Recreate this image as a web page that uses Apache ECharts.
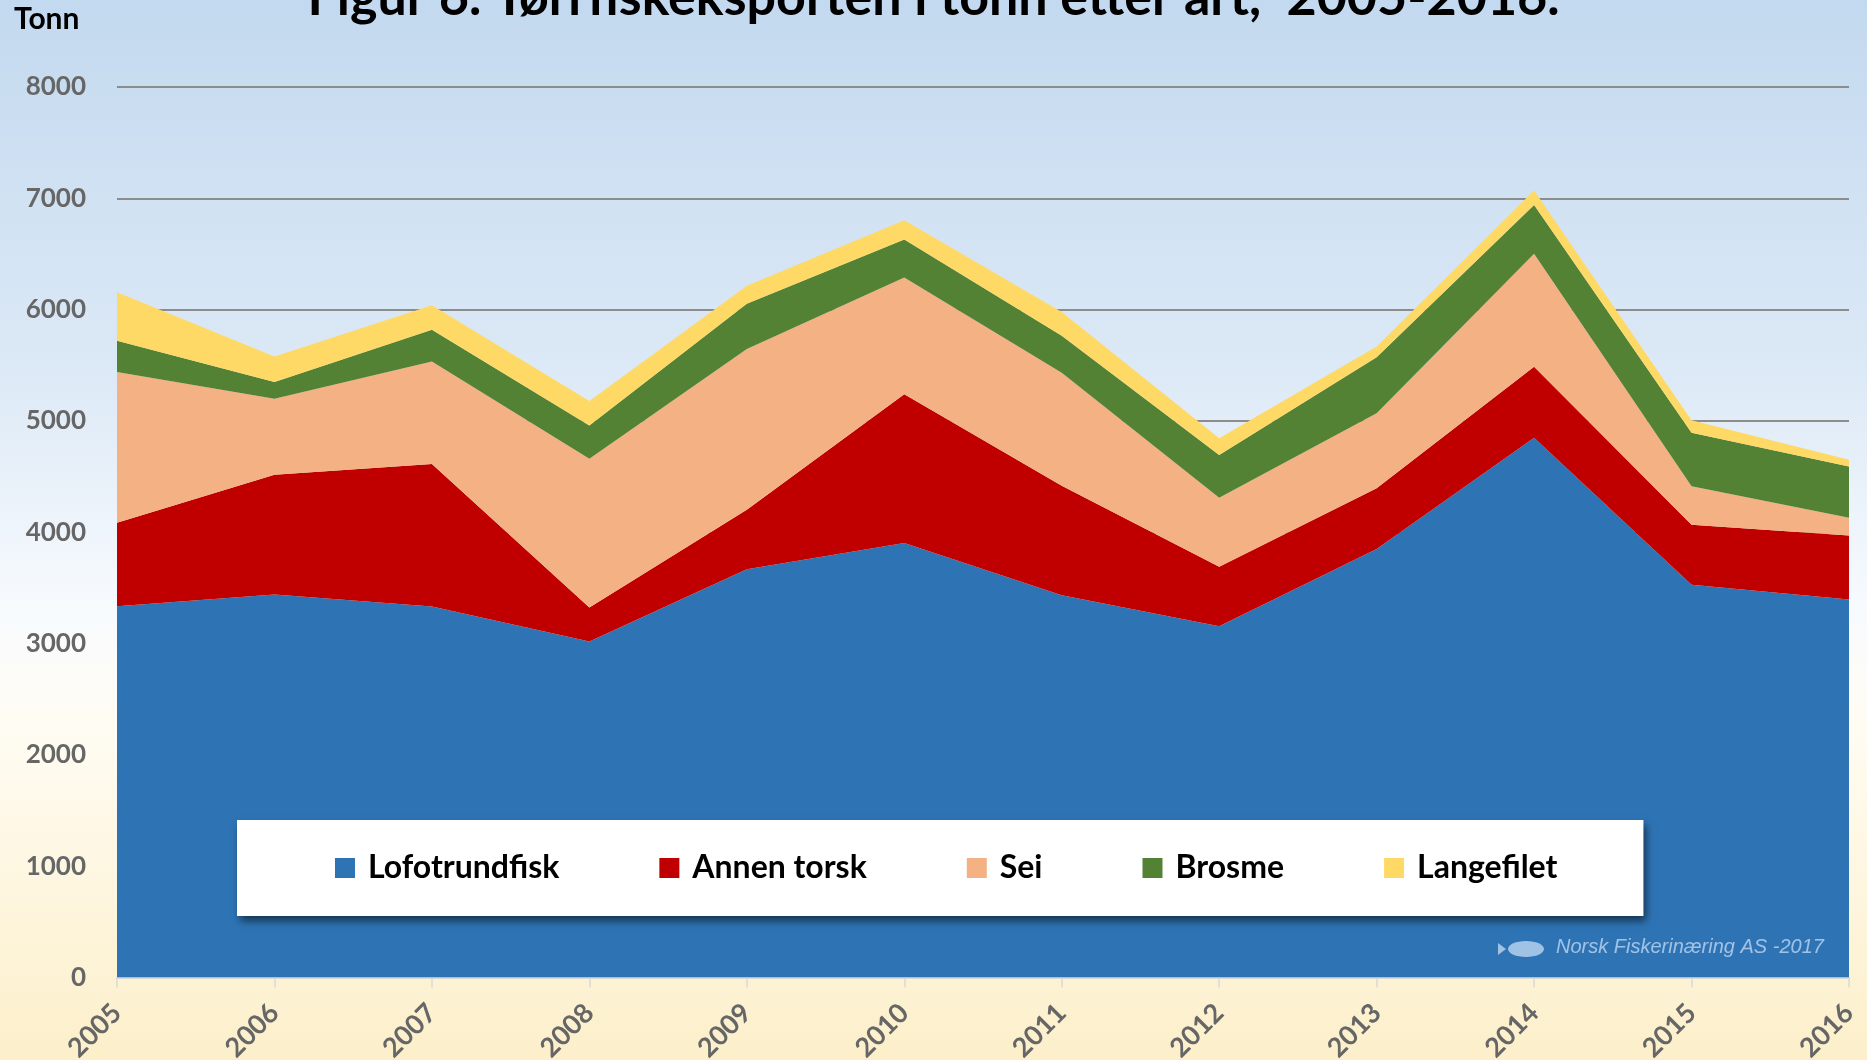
<!DOCTYPE html>
<html>
<head>
<meta charset="utf-8">
<style>
html,body{margin:0;padding:0;width:1867px;height:1060px;overflow:hidden;}
#c{width:1867px;height:1060px;}
</style>
<script src="https://cdn.jsdelivr.net/npm/echarts@6/dist/echarts.min.js"></script>
</head>
<body>
<div id="c"></div>
<script>
const years = ['2005','2006','2007','2008','2009','2010','2011','2012','2013','2014','2015','2016'];
const lofotrundfisk = [3335, 3440, 3333, 3018, 3668, 3904, 3433, 3155, 3850, 4850, 3528, 3395];
const annenTorsk    = [750, 1077, 1280, 306, 535, 1336, 984, 535, 546, 637, 540, 575];
const sei           = [1355, 683, 922, 1336, 1444, 1049, 1016, 620, 674, 1016, 345, 160];
const brosme        = [281, 150, 285, 300, 406, 342, 332, 385, 502, 438, 480, 460];
const langefilet    = [434, 230, 219, 220, 161, 171, 214, 150, 96, 129, 113, 62];
const seriesNames = ['Lofotrundfisk','Annen torsk','Sei','Brosme','Langefilet'];
const yTicks = { min: 0, max: 8000, interval: 1000 };

const colors = ['#2e74b5','#c00000','#f4b183','#548235','#ffd966'];
const dataSets = [lofotrundfisk, annenTorsk, sei, brosme, langefilet];

const chart = echarts.init(document.getElementById('c'), null, {renderer:'canvas'});

const FONT = 'Lato';
const WM = 'rgba(205,224,246,0.72)';
const option = {
  backgroundColor: {
    type: 'linear', x: 0, y: 0, x2: 0, y2: 1,
    colorStops: [
      {offset: 0, color: '#c3d9ef'},
      {offset: 0.35, color: '#dce9f6'},
      {offset: 0.58, color: '#f8fbfe'},
      {offset: 0.68, color: '#fffcf3'},
      {offset: 1, color: '#fcefca'}
    ]
  },
  animation: false,
  title: {
    text: 'Figur 6. Tørrfiskeksporten i tonn etter art,  2005-2016.',
    left: 'center',
    top: -33,
    textStyle: {fontFamily: FONT, fontWeight: 'bold', fontSize: 52, color: '#000'}
  },
  grid: {left: 117, right: 18, top: 87, bottom: 82.5, containLabel: false, outerBoundsMode: 'none'},
  legend: {
    data: seriesNames,
    left: 237,
    top: 820,
    orient: 'horizontal',
    itemWidth: 20,
    itemHeight: 20,
    itemGap: 100,
    icon: 'rect',
    backgroundColor: '#ffffff',
    padding: [32, 86, 32, 98],
    shadowColor: 'rgba(0,0,0,0.55)',
    shadowBlur: 8,
    shadowOffsetX: 3,
    shadowOffsetY: 5,
    textStyle: {fontFamily: FONT, fontWeight: 'bold', fontSize: 32, color: '#000', padding: [0,0,0,8]}
  },
  xAxis: {
    type: 'category',
    data: years,
    boundaryGap: false,
    axisLine: {show: true, lineStyle: {color: '#d9d9d9', width: 2}},
    axisTick: {show: true, length: 10, lineStyle: {color: '#d9d9d9', width: 1.5}},
    axisLabel: {rotate: 45, margin: 31, fontFamily: FONT, fontWeight: 'bold', fontSize: 27, color: '#666666'},
    splitLine: {show: false}
  },
  yAxis: {
    type: 'value',
    min: yTicks.min, max: yTicks.max, interval: yTicks.interval,
    axisLine: {show: false},
    axisTick: {show: false},
    axisLabel: {margin: 31, fontFamily: FONT, fontWeight: 'bold', fontSize: 26, color: '#666666',
      formatter: v => String(v)},
    splitLine: {show: true, lineStyle: {color: '#8c8c8c', width: 2}}
  },
  series: seriesNames.map((n, i) => ({
    name: n,
    type: 'line',
    stack: 'total',
    data: dataSets[i],
    symbol: 'none',
    lineStyle: {width: 0},
    itemStyle: {color: colors[i]},
    areaStyle: {color: colors[i], opacity: 1}
  })),
  graphic: [
    {type: 'text', left: 14, top: 4, z: 100, style: {text: 'Tonn', fontFamily: FONT, fontWeight: 'bold', fontSize: 30, fill: '#000'}},
    {type: 'polygon', z: 100, shape: {points: [[1498,943],[1506,949],[1498,955]]}, style: {fill: WM}},
    {type: 'ellipse', z: 100, shape: {cx: 1526, cy: 949, rx: 18, ry: 8}, style: {fill: WM}},
    {type: 'text', z: 100, left: 1556, top: 937, style: {text: 'Norsk Fiskerinæring AS -2017', fontFamily: 'Liberation Sans', fontStyle: 'italic', fontSize: 20, fill: WM}}
  ]
};
chart.setOption(option);
</script>
</body>
</html>
